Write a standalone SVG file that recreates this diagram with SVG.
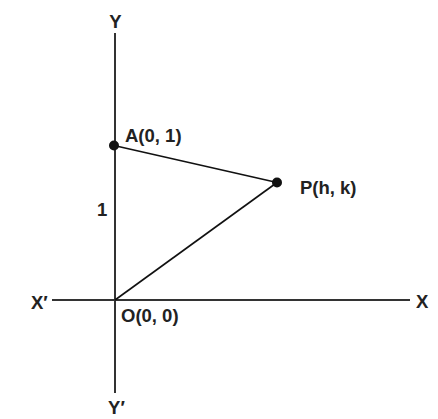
<svg xmlns="http://www.w3.org/2000/svg" width="438" height="419" viewBox="0 0 438 419">
<style>
.axis{stroke:#333;stroke-width:2;fill:none}
.seg{stroke:#111;stroke-width:1.6;fill:none}
.dot{fill:#111}
text{font-family:"Liberation Sans",Arial,sans-serif;font-weight:bold;font-size:18.5px;fill:#222}
</style>
<rect width="438" height="419" fill="#fff"/>
<g id="connectors">
<line class="axis" x1="115" y1="33" x2="115" y2="393"/>
<line class="axis" x1="52" y1="300" x2="410" y2="300"/>
<line class="seg" x1="114" y1="145.5" x2="277" y2="182.5"/>
<line class="seg" x1="115" y1="300" x2="277" y2="182.5"/>
</g>
<g id="axis-labels">
<text x="115.5" y="28" text-anchor="middle">Y</text>
<text x="116.5" y="414" text-anchor="middle">Y′</text>
<text x="31" y="309">X′</text>
<text x="416" y="308">X</text>
<text x="97" y="216">1</text>
</g>
<g id="node-A">
<circle class="dot" cx="114" cy="145.5" r="5"/>
<text x="125" y="142">A(0, 1)</text>
</g>
<g id="node-P">
<circle class="dot" cx="277" cy="182.5" r="5"/>
<text x="300" y="194">P(h, k)</text>
</g>
<g id="node-O">
<text x="121" y="322">O(0, 0)</text>
</g>
</svg>
